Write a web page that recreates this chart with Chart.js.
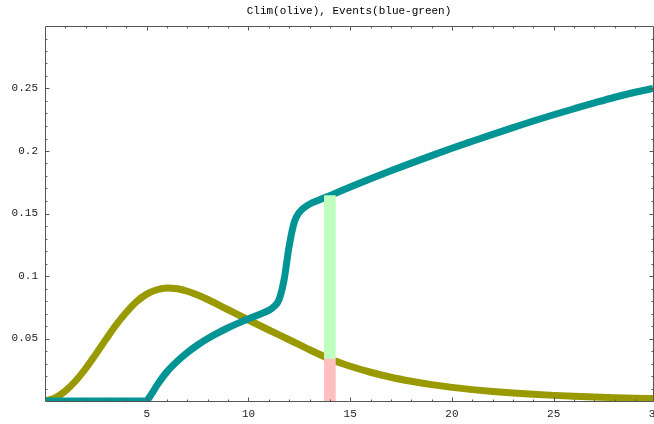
<!DOCTYPE html>
<html>
<head>
<meta charset="utf-8">
<script src="https://cdn.jsdelivr.net/npm/chart.js@4/dist/chart.umd.min.js"></script>
<style>
  html, body { margin: 0; padding: 0; background: #fff; overflow: hidden; }
  canvas { display: block; }
</style>
</head>
<body>
<canvas id="c" width="654" height="424"></canvas>
<script>
// ---- data ----
const titleText = 'Clim(olive), Events(blue-green)';

const climX = [0, 0.5, 1, 1.5, 2, 2.5, 3, 3.5, 4, 4.5, 5, 5.5, 6, 6.5, 7, 7.5, 8, 9, 10, 11, 12, 13, 14, 15, 16, 17, 18, 19, 20, 21, 22, 23, 24, 25, 26, 27, 28, 29, 29.88];
const climY = [0, 0.0025, 0.008, 0.016, 0.026, 0.0375, 0.0495, 0.061, 0.071, 0.0795, 0.0855, 0.089, 0.0905, 0.0898, 0.0878, 0.0848, 0.0812, 0.073, 0.0648, 0.0568, 0.049, 0.041, 0.0336, 0.0278, 0.0230, 0.0190, 0.0158, 0.0131, 0.0109, 0.0091, 0.0076, 0.0064, 0.0054, 0.0045, 0.0038, 0.0032, 0.0027, 0.0023, 0.0020];

const eventsX = [0, 1, 2, 3, 4, 4.95, 5.25, 5.5, 6, 6.5, 7, 7.5, 8, 8.5, 9, 9.5, 10, 10.5, 11, 11.25, 11.5, 11.75, 12, 12.25, 12.5, 13, 13.5, 14, 15, 16, 17, 18, 19, 20, 21, 22, 23, 24, 25, 26, 27, 28, 29, 29.88];
const eventsY = [0, 0, 0, 0, 0, 0, 0.006, 0.0125, 0.0235, 0.0318, 0.0388, 0.0448, 0.0500, 0.0545, 0.0586, 0.0623, 0.0657, 0.0690, 0.0725, 0.0755, 0.081, 0.097, 0.124, 0.143, 0.151, 0.1575, 0.161, 0.1643, 0.1712, 0.1778, 0.1842, 0.1903, 0.1963, 0.2022, 0.2078, 0.2133, 0.2187, 0.2240, 0.2290, 0.2338, 0.2385, 0.2430, 0.2470, 0.2500];

const markX = 14;
const markLow = [0, 0.0336];       // pink part
const markHigh = [0.0336, 0.1643]; // green part

const xTicks = [5, 10, 15, 20, 25, 30];
const xTickLabels = ['5', '10', '15', '20', '25', '30'];
const yTicks = [0.05, 0.1, 0.15, 0.2, 0.25];
const yTickLabels = ['0.05', '0.1', '0.15', '0.2', '0.25'];

const xMin = 0, xMax = 29.88, yMin = 0, yMax = 0.3;

// ---- styling ----
const OLIVE = '#999900';
const TEAL = '#009494';
const GREEN = '#bfffbf';
const PINK = '#ffbfbf';
const FRAME = '#555555';
const FONT = 'Liberation Mono';

const zip = (xs, ys) => xs.map((x, i) => ({ x: x, y: ys[i] }));

// frame + inward ticks (major / minor) drawn from the chart scales
const frameTicks = {
  id: 'frameTicks',
  afterDatasetsDraw(chart) {
    const { ctx, chartArea: a, scales } = chart;
    const sx = scales.x, sy = scales.y;
    const L = Math.floor(a.left) + 0.5, R = Math.floor(a.right) + 0.5;
    const T = Math.floor(a.top) + 0.5, B = Math.floor(a.bottom) + 0.5;
    ctx.save();
    ctx.strokeStyle = FRAME;
    ctx.lineWidth = 1;
    ctx.beginPath();
    ctx.rect(L, T, R - L, B - T);
    ctx.stroke();
    ctx.beginPath();
    for (let v = 1; v < xMax; v++) {
      const len = v % 5 === 0 ? 4 : 2;
      const px = Math.round(sx.getPixelForValue(v)) + 0.5;
      ctx.moveTo(px, B); ctx.lineTo(px, B - len);
      ctx.moveTo(px, T); ctx.lineTo(px, T + len);
    }
    for (let k = 1; k < 30; k++) {
      const v = k / 100;
      const len = k % 5 === 0 ? 4 : 2;
      const py = Math.round(sy.getPixelForValue(v)) + 0.5;
      ctx.moveTo(L, py); ctx.lineTo(L + len, py);
      ctx.moveTo(R, py); ctx.lineTo(R - len, py);
    }
    ctx.stroke();
    ctx.restore();
  }
};

new Chart(document.getElementById('c'), {
  type: 'line',
  data: {
    datasets: [
      {
        type: 'bar', label: 'low', data: [{ x: markX, y: markLow }],
        backgroundColor: PINK, borderWidth: 0, barThickness: 11, grouped: false, order: 0
      },
      {
        type: 'bar', label: 'high', data: [{ x: markX, y: markHigh }],
        backgroundColor: GREEN, borderWidth: 0, barThickness: 11, grouped: false, order: 0
      },
      {
        label: 'Clim', data: zip(climX, climY), borderColor: OLIVE, borderWidth: 7,
        pointRadius: 0, cubicInterpolationMode: 'monotone', borderJoinStyle: 'round',
        fill: false, clip: 0, order: 2
      },
      {
        label: 'Events', data: zip(eventsX, eventsY), borderColor: TEAL, borderWidth: 7,
        pointRadius: 0, cubicInterpolationMode: 'monotone', borderJoinStyle: 'round',
        fill: false, clip: 0, order: 1
      }
    ]
  },
  options: {
    responsive: false,
    devicePixelRatio: 1,
    animation: false,
    layout: { padding: { left: 0, right: 1, top: 0, bottom: 0 } },
    plugins: {
      legend: { display: false },
      tooltip: { enabled: false },
      title: {
        display: true, text: titleText, color: '#000', fullSize: false,
        font: { family: FONT, size: 11, weight: 'normal' },
        padding: { top: 4.5, bottom: 8.3 }
      }
    },
    scales: {
      x: {
        type: 'linear', min: xMin, max: xMax, offset: false,
        grid: { display: false, drawTicks: false, tickLength: 0 },
        border: { display: false },
        afterBuildTicks: s => { s.ticks = xTicks.map(v => ({ value: v })); },
        afterFit: s => { s.height = 23; s.paddingLeft = 0; s.paddingRight = 0; },
        ticks: {
          autoSkip: false, maxRotation: 0, padding: 6, color: '#222',
          font: { family: FONT, size: 11 },
          callback: (v) => xTickLabels[xTicks.indexOf(v)] ?? ''
        }
      },
      y: {
        type: 'linear', min: yMin, max: yMax,
        grid: { display: false, drawTicks: false, tickLength: 0 },
        border: { display: false },
        afterBuildTicks: s => { s.ticks = yTicks.map(v => ({ value: v })); },
        afterFit: s => { s.width = 45; s.paddingTop = 0; s.paddingBottom = 0; },
        ticks: {
          autoSkip: false, padding: 7, color: '#222',
          font: { family: FONT, size: 11 },
          callback: (v) => yTickLabels[yTicks.indexOf(v)] ?? ''
        }
      }
    }
  },
  plugins: [frameTicks]
});
</script>
</body>
</html>
